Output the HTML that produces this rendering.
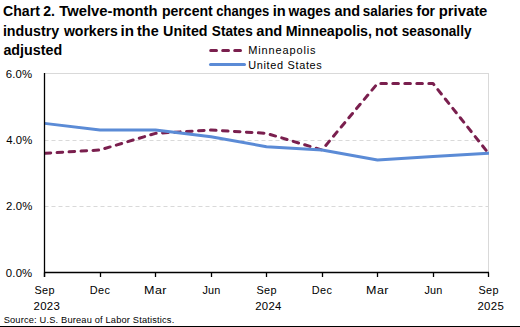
<!DOCTYPE html>
<html><head><meta charset="utf-8"><style>html,body{margin:0;padding:0;background:#fff;width:520px;height:327px;overflow:hidden}svg{display:block}</style></head>
<body><svg width="520" height="327" viewBox="0 0 520 327"><rect width="520" height="327" fill="#fff"/><g font-family="'Liberation Sans', sans-serif" fill="#000"><text x="3.077" y="16" font-size="14" font-weight="bold" letter-spacing="0.000" transform="matrix(1.00722 0 0 1 -0.022 0)">Chart</text><text x="43.191" y="16" font-size="14" font-weight="bold" letter-spacing="0.000" transform="matrix(1.00481 0 0 1 -0.208 0)">2.</text><text x="59.298" y="16" font-size="14" font-weight="bold" letter-spacing="0.000" transform="matrix(1.05681 0 0 1 -3.369 0)">Twelve-month</text><text x="161.906" y="16" font-size="14" font-weight="bold" letter-spacing="0.000" transform="matrix(1.00681 0 0 1 -1.103 0)">percent</text><text x="216.282" y="16" font-size="14" font-weight="bold" letter-spacing="0.000" transform="matrix(0.93243 0 0 1 14.615 0)">changes</text><text x="272.686" y="16" font-size="14" font-weight="bold" letter-spacing="0.000" transform="matrix(1.04812 0 0 1 -13.120 0)">in</text><text x="288.500" y="16" font-size="14" font-weight="bold" letter-spacing="0.000" transform="matrix(0.98694 0 0 1 3.768 0)">wages</text><text x="334.449" y="16" font-size="14" font-weight="bold" letter-spacing="0.000" transform="matrix(1.03525 0 0 1 -11.790 0)">and</text><text x="362.833" y="16" font-size="14" font-weight="bold" letter-spacing="0.000" transform="matrix(0.96338 0 0 1 13.286 0)">salaries</text><text x="416.509" y="16" font-size="14" font-weight="bold" letter-spacing="0.000" transform="matrix(0.99162 0 0 1 3.489 0)">for</text><text x="438.752" y="16" font-size="14" font-weight="bold" letter-spacing="0.000" transform="matrix(1.05827 0 0 1 -25.567 0)">private</text><text x="2.899" y="35.6" font-size="14" font-weight="bold" letter-spacing="0.000" transform="matrix(1.01929 0 0 1 -0.056 0)">industry</text><text x="63.892" y="35.6" font-size="14" font-weight="bold" letter-spacing="0.000" transform="matrix(1.00498 0 0 1 -0.318 0)">workers</text><text x="120.596" y="35.6" font-size="14" font-weight="bold" letter-spacing="0.000" transform="matrix(1.08320 0 0 1 -10.033 0)">in</text><text x="137.068" y="35.6" font-size="14" font-weight="bold" letter-spacing="0.000" transform="matrix(1.02822 0 0 1 -3.868 0)">the</text><text x="163.094" y="35.6" font-size="14" font-weight="bold" letter-spacing="0.000" transform="matrix(1.02217 0 0 1 -3.616 0)">United</text><text x="211.847" y="35.6" font-size="14" font-weight="bold" letter-spacing="0.000" transform="matrix(0.97516 0 0 1 5.263 0)">States</text><text x="256.302" y="35.6" font-size="14" font-weight="bold" letter-spacing="0.000" transform="matrix(1.04654 0 0 1 -11.928 0)">and</text><text x="285.658" y="35.6" font-size="14" font-weight="bold" letter-spacing="0.000" transform="matrix(1.01931 0 0 1 -5.517 0)">Minneapolis,</text><text x="375.123" y="35.6" font-size="14" font-weight="bold" letter-spacing="0.000" transform="matrix(1.03814 0 0 1 -14.307 0)">not</text><text x="401.775" y="35.6" font-size="14" font-weight="bold" letter-spacing="0.000" transform="matrix(0.97480 0 0 1 10.124 0)">seasonally</text><text x="3.449" y="55.4" font-size="14" font-weight="bold" letter-spacing="0.000" transform="matrix(1.02031 0 0 1 -0.070 0)">adjusted</text><text x="5.832" y="78" font-size="11.3" font-weight="normal" letter-spacing="0.147" transform="matrix(1.00762 0 0 1 -0.044 0)">6.0%</text><text x="6.257" y="144.2" font-size="11.3" font-weight="normal" letter-spacing="0.066" transform="matrix(1.00339 0 0 1 -0.021 0)">4.0%</text><text x="5.989" y="209.6" font-size="11.3" font-weight="normal" letter-spacing="0.117" transform="matrix(1.00599 0 0 1 -0.036 0)">2.0%</text><text x="5.876" y="277" font-size="11.3" font-weight="normal" letter-spacing="0.145" transform="matrix(1.00751 0 0 1 -0.044 0)">0.0%</text><text x="34.511" y="293.8" font-size="10.8" font-weight="normal" letter-spacing="0.312" transform="matrix(1.00855 0 0 1 -0.295 0)">Sep</text><text x="89.735" y="293.8" font-size="10.8" font-weight="normal" letter-spacing="0.420" transform="matrix(1.01144 0 0 1 -1.026 0)">Dec</text><text x="144.117" y="293.8" font-size="10.8" font-weight="normal" letter-spacing="0.355" transform="matrix(1.16112 0 0 1 -23.220 0)">Mar</text><text x="202.501" y="293.8" font-size="10.8" font-weight="normal" letter-spacing="0.162" transform="matrix(1.00521 0 0 1 -1.055 0)">Jun</text><text x="256.511" y="293.8" font-size="10.8" font-weight="normal" letter-spacing="0.312" transform="matrix(1.00855 0 0 1 -2.192 0)">Sep</text><text x="311.735" y="293.8" font-size="10.8" font-weight="normal" letter-spacing="0.420" transform="matrix(1.01144 0 0 1 -3.566 0)">Dec</text><text x="366.117" y="293.8" font-size="10.8" font-weight="normal" letter-spacing="0.355" transform="matrix(1.16112 0 0 1 -58.988 0)">Mar</text><text x="424.501" y="293.8" font-size="10.8" font-weight="normal" letter-spacing="0.162" transform="matrix(1.00521 0 0 1 -2.212 0)">Jun</text><text x="478.511" y="293.8" font-size="10.8" font-weight="normal" letter-spacing="0.312" transform="matrix(1.00855 0 0 1 -4.089 0)">Sep</text><text x="33.394" y="309.6" font-size="11.2" font-weight="normal" letter-spacing="0.383" transform="matrix(1.02032 0 0 1 -0.679 0)">2023</text><text x="255.242" y="309.6" font-size="11.2" font-weight="normal" letter-spacing="0.298" transform="matrix(1.01569 0 0 1 -4.005 0)">2024</text><text x="477.400" y="309.6" font-size="11.2" font-weight="normal" letter-spacing="0.346" transform="matrix(1.01841 0 0 1 -8.791 0)">2025</text><text x="248.226" y="53.9" font-size="10.6" font-weight="normal" letter-spacing="0.839" transform="matrix(1.03802 0 0 1 -9.436 0)">Minneapolis</text><text x="248.204" y="68.6" font-size="10.6" font-weight="normal" letter-spacing="0.652" transform="matrix(1.03155 0 0 1 -7.830 0)">United States</text><text x="3.644" y="322.7" font-size="9.2" font-weight="normal" letter-spacing="0.167" transform="matrix(1.01012 0 0 1 -0.037 0)">Source: U.S. Bureau of Labor Statistics.</text></g><line x1="44.5" y1="73.5" x2="489.0" y2="73.5" stroke="#d9d9d9" stroke-width="1"/><line x1="488.5" y1="73.5" x2="488.5" y2="272.5" stroke="#d9d9d9" stroke-width="1"/><line x1="44.5" y1="206.5" x2="488.5" y2="206.5" stroke="#d9d9d9" stroke-width="1" stroke-dasharray="4 3"/><line x1="44.5" y1="140.5" x2="488.5" y2="140.5" stroke="#d9d9d9" stroke-width="1" stroke-dasharray="4 3"/><defs><clipPath id="pa"><rect x="44.5" y="0" width="444.5" height="327"/></clipPath></defs><g clip-path="url(#pa)"><polyline points="44.50,153.30 100.00,149.97 155.50,133.35 211.00,130.03 266.50,133.35 322.00,149.97 377.50,83.47 433.00,83.47 488.50,153.30" fill="none" stroke="#7a1f4e" stroke-width="3" stroke-dasharray="5.6 6.4" stroke-dashoffset="-0.6" stroke-linecap="round" stroke-linejoin="round"/><polyline points="44.50,123.38 100.00,130.03 155.50,130.03 211.00,136.68 266.50,146.65 322.00,149.97 377.50,159.95 433.00,156.62 488.50,153.30" fill="none" stroke="#5b8bd6" stroke-width="3" stroke-linecap="round" stroke-linejoin="round"/></g><line x1="44.5" y1="73.0" x2="44.5" y2="277.0" stroke="#000" stroke-width="1.3"/><line x1="44.0" y1="272.5" x2="489.0" y2="272.5" stroke="#000" stroke-width="1.3"/><line x1="44.5" y1="272.5" x2="44.5" y2="277.0" stroke="#000" stroke-width="1.3"/><line x1="100.5" y1="272.5" x2="100.5" y2="277.0" stroke="#000" stroke-width="1.3"/><line x1="155.5" y1="272.5" x2="155.5" y2="277.0" stroke="#000" stroke-width="1.3"/><line x1="211.5" y1="272.5" x2="211.5" y2="277.0" stroke="#000" stroke-width="1.3"/><line x1="266.5" y1="272.5" x2="266.5" y2="277.0" stroke="#000" stroke-width="1.3"/><line x1="322.5" y1="272.5" x2="322.5" y2="277.0" stroke="#000" stroke-width="1.3"/><line x1="377.5" y1="272.5" x2="377.5" y2="277.0" stroke="#000" stroke-width="1.3"/><line x1="433.5" y1="272.5" x2="433.5" y2="277.0" stroke="#000" stroke-width="1.3"/><line x1="488.5" y1="272.5" x2="488.5" y2="277.0" stroke="#000" stroke-width="1.3"/><line x1="210.7" y1="50.6" x2="241" y2="50.6" stroke="#7a1f4e" stroke-width="3" stroke-dasharray="5.8 6.2" stroke-linecap="round"/><line x1="210.5" y1="64.5" x2="244.5" y2="64.5" stroke="#5b8bd6" stroke-width="3" stroke-linecap="round"/><rect x="0" y="326" width="520" height="1" fill="#000"/></svg></body></html>
